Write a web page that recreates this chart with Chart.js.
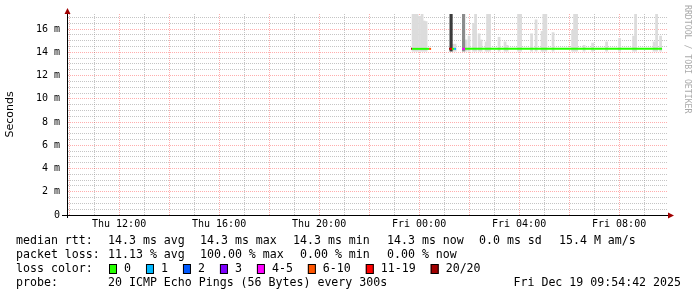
<!DOCTYPE html>
<html>
<head>
<meta charset="utf-8">
<script src="https://cdn.jsdelivr.net/npm/chart.js@4.4.1/dist/chart.umd.min.js"></script>
<style>
html, body { margin: 0; padding: 0; background: #fff; }
canvas { display: block; }
</style>
</head>
<body>
<canvas id="pingChart" width="697" height="297"></canvas>
<script>
// x axis is in hours since Thu 00:00, graph covers Thu 09:55 .. Fri 09:55
const startHour = 9.917;
const endHour = 33.917;
const xTickHours = [10, 11, 12, 13, 14, 15, 16, 17, 18, 19, 20, 21, 22, 23, 24, 25, 26, 27, 28, 29, 30, 31, 32, 33];
const xLabelHours = [12, 16, 20, 24, 28, 32];
const xLabels = ['Thu 12:00', 'Thu 16:00', 'Thu 20:00', 'Fri 00:00', 'Fri 04:00', 'Fri 08:00'];

// y axis in milliseconds
const yMax = 17.3;
const yTicks = [0, 0.5, 1, 1.5, 2, 2.5, 3, 3.5, 4, 4.5, 5, 5.5, 6, 6.5, 7, 7.5, 8, 8.5, 9, 9.5, 10, 10.5, 11, 11.5, 12, 12.5, 13, 13.5, 14, 14.5, 15, 15.5, 16, 16.5, 17];
const yLabelValues = [0, 2, 4, 6, 8, 10, 12, 14, 16];
const yLabels = ['0', '2 m', '4 m', '6 m', '8 m', '10 m', '12 m', '14 m', '16 m'];

// loss classes
const lossNames = ['0', '1', '2', '3', '4-5', '6-10', '11-19', '20/20'];
const lossColors = ['#26ff00', '#00b8ff', '#0059ff', '#7e00ff', '#ff00ff', '#ff5500', '#ff0000', '#a10000'];

// median rtt, loss class applies to the segment starting at that point (-1 = none)
const medianTimes  = [23.68, 23.72, 24.40, 24.48, 24.90, 25.20, 25.24, 25.32, 25.40, 25.48, 25.60, 25.72, 25.84, 33.72];
const medianValues = [14.3, 14.3, 14.3, 14.3, null, 14.3, 14.3, 14.3, 14.3, 14.3, null, 14.3, 14.3, 14.3];
const medianLoss   = [7, 0, 5, -1, -1, 7, 6, 0, 1, -1, -1, 4, 0, -1];

// smoke (spread of the pings above the median)
const smokeBase = 14.1;
const smokeTimes = [23.76, 23.84, 23.92, 24.02, 24.12, 24.20, 24.28, 25.36, 25.44,
  25.88, 26.00, 26.18, 26.26, 26.40, 26.48, 26.68, 26.74, 26.82, 27.20, 27.44, 27.52,
  27.98, 28.06, 28.50, 28.68, 28.92, 28.99, 29.07, 29.36, 30.14, 30.22, 30.30, 30.60,
  30.94, 31.50, 32.02, 32.58, 32.66, 33.40, 33.50, 33.66];
const smokeTops = [17.4, 17.4, 17.4, 17.1, 17.4, 16.7, 16.65, 14.7, 14.7,
  15.07, 15.4, 16.5, 17.4, 15.6, 15.07, 14.9, 17.4, 17.4, 15.3, 14.9, 14.6,
  17.4, 17.4, 15.6, 16.8, 15.8, 17.4, 17.4, 15.7, 15.9, 17.4, 17.4, 14.6,
  14.8, 14.9, 15.2, 15.4, 17.4, 14.9, 17.4, 15.4];

// two darker full-height smoke bars around the loss period
const darkTimes = [25.28, 25.78];
const darkTops = [17.4, 17.4];
const darkColors = ['#3c3c3c', '#8c8c8c'];

// legend rows: [text, x] pieces
const legendRtt = [['median rtt:', 16], ['14.3 ms avg', 108], ['14.3 ms max', 200], ['14.3 ms min', 293],
  ['14.3 ms now', 387], ['0.0 ms sd', 479], ['15.4 M am/s', 559]];
const legendLoss = [['packet loss:', 16], ['11.13 % avg', 108], ['100.00 % max', 200], ['0.00 % min', 300],
  ['0.00 % now', 387]];
const legendColor = [['loss color:', 16]];
const legendProbe = [['probe:', 16], ['20 ICMP Echo Pings (56 Bytes) every 300s', 108]];
const dateText = 'Fri Dec 19 09:54:42 2025';
const watermark = 'RRDTOOL / TOBI OETIKER';

const monoFont = '"DejaVu Sans Mono", monospace';

const rrdExtras = {
  id: 'rrdExtras',
  afterDraw(chart) {
    const ctx = chart.ctx;
    const area = chart.chartArea;
    ctx.save();
    // axis extensions and arrows
    ctx.strokeStyle = '#000';
    ctx.lineWidth = 1;
    ctx.beginPath();
    ctx.moveTo(62, area.bottom + 0.5);
    ctx.lineTo(area.right + 1, area.bottom + 0.5);
    ctx.moveTo(area.left + 0.5, area.bottom + 3);
    ctx.lineTo(area.left + 0.5, area.top - 1);
    ctx.stroke();
    ctx.fillStyle = '#a00000';
    ctx.beginPath();
    ctx.moveTo(area.left + 0.5, area.top - 6);
    ctx.lineTo(area.left - 2.5, area.top);
    ctx.lineTo(area.left + 3.5, area.top);
    ctx.closePath();
    ctx.fill();
    ctx.beginPath();
    ctx.moveTo(area.right + 7, area.bottom + 0.5);
    ctx.lineTo(area.right + 1, area.bottom - 2.5);
    ctx.lineTo(area.right + 1, area.bottom + 3.5);
    ctx.closePath();
    ctx.fill();

    // legend text
    ctx.font = '11.6px ' + monoFont;
    ctx.fillStyle = '#000';
    ctx.textBaseline = 'middle';
    ctx.textAlign = 'left';
    const lineY = [241, 255, 269, 283];
    [legendRtt, legendLoss, legendColor, legendProbe].forEach((row, i) => {
      row.forEach(([t, x]) => ctx.fillText(t, x, lineY[i]));
    });
    ctx.textAlign = 'right';
    ctx.fillText(dateText, 681, lineY[3]);
    ctx.textAlign = 'left';

    // loss colour boxes
    let x = 109;
    lossNames.forEach((name, i) => {
      ctx.fillStyle = lossColors[i];
      ctx.fillRect(x, lineY[2] - 5, 8, 10);
      ctx.strokeStyle = '#000';
      ctx.strokeRect(x + 0.5, lineY[2] - 4.5, 7, 9);
      ctx.fillStyle = '#000';
      ctx.fillText(name, x + 15, lineY[2]);
      x += 15 + ctx.measureText(name).width + 15;
    });

    // watermark
    ctx.translate(687, 5);
    ctx.rotate(Math.PI / 2);
    ctx.font = '8.2px ' + monoFont;
    ctx.fillStyle = '#aaaaaa';
    ctx.textBaseline = 'middle';
    ctx.fillText(watermark, 0, 0);
    ctx.restore();
  }
};

const gridColor = (major) => major ? 'rgba(255, 0, 0, 0.32)' : 'rgba(150, 150, 150, 0.55)';

new Chart(document.getElementById('pingChart').getContext('2d'), {
  type: 'bar',
  data: {
    datasets: [{
      type: 'line',
      label: 'median rtt',
      order: 0,
      data: medianTimes.map((t, i) => ({ x: t, y: medianValues[i] })),
      borderWidth: 2,
      pointRadius: 0,
      spanGaps: false,
      segment: {
        borderColor: (c) => lossColors[Math.max(medianLoss[c.p0DataIndex], 0)]
      }
    }, {
      label: 'dark smoke',
      order: 1,
      grouped: false,
      data: darkTimes.map((t, i) => ({ x: t, y: [smokeBase, darkTops[i]] })),
      backgroundColor: darkColors,
      barThickness: 2.5
    }, {
      label: 'smoke',
      order: 2,
      grouped: false,
      data: smokeTimes.map((t, i) => ({ x: t, y: [smokeBase, smokeTops[i]] })),
      backgroundColor: '#dcdcdc',
      barThickness: 2.1
    }]
  },
  options: {
    responsive: false,
    animation: false,
    devicePixelRatio: 1,
    layout: { padding: { left: 0, right: 30, top: 14, bottom: 0 } },
    plugins: { legend: { display: false }, tooltip: { enabled: false } },
    scales: {
      x: {
        type: 'linear',
        min: startHour,
        max: endHour,
        offset: false,
        afterBuildTicks: (s) => { s.ticks = xTickHours.map(v => ({ value: v })); },
        afterFit: (s) => { s.height = 82; },
        ticks: {
          autoSkip: false,
          maxRotation: 0,
          padding: 3,
          color: '#000',
          font: { family: monoFont, size: 10 },
          callback: (v) => {
            const k = xLabelHours.indexOf(v);
            return k >= 0 ? xLabels[k] : '';
          }
        },
        grid: {
          offset: false,
          drawTicks: false,
          color: (c) => gridColor(c.tick && c.tick.value % 2 === 0)
        },
        border: { color: '#000', width: 1, dash: [1, 1] }
      },
      y: {
        type: 'linear',
        min: 0,
        max: yMax,
        afterBuildTicks: (s) => { s.ticks = yTicks.map(v => ({ value: v })); },
        afterFit: (s) => { s.width = 67; },
        ticks: {
          autoSkip: false,
          padding: 7,
          color: '#000',
          font: { family: monoFont, size: 10 },
          callback: (v) => {
            const k = yLabelValues.indexOf(v);
            return k >= 0 ? yLabels[k] : '';
          }
        },
        grid: {
          drawTicks: false,
          color: (c) => gridColor(c.tick && c.tick.value % 2 === 0)
        },
        border: { color: '#000', width: 1, dash: [1, 1] },
        title: {
          display: true,
          text: 'Seconds',
          color: '#000',
          font: { family: '"DejaVu Sans", sans-serif', size: 11 },
          padding: { top: 4, bottom: 0 }
        }
      }
    }
  },
  plugins: [rrdExtras]
});
</script>
</body>
</html>
